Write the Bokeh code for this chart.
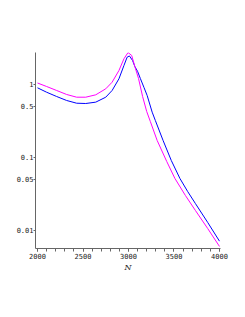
from bokeh.plotting import figure
from bokeh.models import Range1d, FixedTicker, CustomJSTickFormatter
from bokeh.embed import file_html
from bokeh.resources import INLINE

# magenta curve
n_mag = [2000, 2100, 2210, 2320, 2430, 2530, 2640, 2750, 2820, 2895, 2950, 2995,
         3035, 3070, 3110, 3155, 3200, 3240, 3315, 3420, 3510, 3625, 3735, 3870, 4000]
v_mag = [1.048, 0.939, 0.828, 0.730, 0.670, 0.670, 0.722, 0.873, 1.075, 1.555, 2.25, 2.74,
         2.50, 1.76, 1.21, 0.685, 0.427, 0.311, 0.171, 0.0882, 0.0516, 0.0302, 0.0188, 0.01065, 0.00604]

# blue curve
n_blue = [2000, 2100, 2210, 2320, 2430, 2530, 2640, 2750, 2820, 2895, 2950, 2985, 3010,
          3045, 3070, 3100, 3130, 3170, 3205, 3260, 3295, 3380, 3470, 3565, 3650, 3735, 3870, 4000]
v_blue = [0.901, 0.784, 0.685, 0.604, 0.554, 0.549, 0.573, 0.670, 0.828, 1.197, 1.82, 2.37, 2.46,
          2.13, 1.76, 1.51, 1.21, 0.910, 0.707, 0.418, 0.321, 0.171, 0.091, 0.0516, 0.0342, 0.0234, 0.0129, 0.00713]

x_major = [2000, 2500, 3000, 3500, 4000]
x_minor = list(range(2000, 4001, 100))
y_ticks = [0.01, 0.05, 0.1, 0.5, 1]

p = figure(width=237, height=309, output_backend="svg", toolbar_location=None,
           y_axis_type="log",
           x_range=Range1d(1978, 4011), y_range=Range1d(0.00566, 2.744),
           min_border_left=35, min_border_right=17, min_border_top=52, min_border_bottom=61)
p.outline_line_color = None
p.xgrid.visible = False
p.ygrid.visible = False
p.background_fill_color = "white"
p.border_fill_color = "white"

p.line(n_blue, v_blue, line_color="#0000ff", line_width=1)
p.line(n_mag, v_mag, line_color="#ff00ff", line_width=1)

xa = p.xaxis[0]
xa.ticker = FixedTicker(ticks=x_major, minor_ticks=x_minor)
xa.axis_label = "N"
xa.axis_label_text_font = "DejaVu Serif"
xa.axis_label_text_font_style = "italic"
xa.axis_label_text_font_size = "8px"
xa.axis_label_standoff = 1
xa.major_label_text_font = "DejaVu Sans Mono"
xa.major_label_text_font_size = "7px"
xa.major_label_standoff = 1
xa.major_tick_out = 3
xa.major_tick_in = 0
xa.minor_tick_out = 3
xa.minor_tick_in = 0

ya = p.yaxis[0]
ya.ticker = FixedTicker(ticks=y_ticks, minor_ticks=[])
ya.formatter = CustomJSTickFormatter(code="return tick.toString();")
ya.major_label_text_font = "DejaVu Sans Mono"
ya.major_label_text_font_size = "7px"
ya.major_label_standoff = 0
ya.major_tick_out = 2
ya.major_tick_in = 0

for ax in (xa, ya):
    ax.axis_line_color = "#666666"
    ax.major_tick_line_color = "#666666"
    ax.minor_tick_line_color = "#666666"
    ax.major_label_text_color = "#222222"
    ax.axis_label_text_color = "#222222"

open("out.html", "w").write(file_html(p, INLINE))
